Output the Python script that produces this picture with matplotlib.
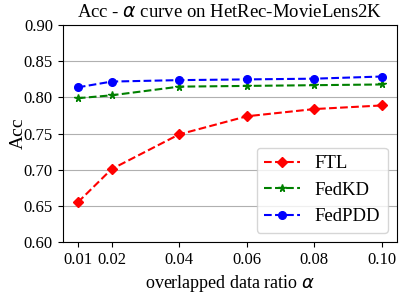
import matplotlib
matplotlib.use("Agg")
import matplotlib.pyplot as plt

x = [0.01, 0.02, 0.04, 0.06, 0.08, 0.10]
xlabels = ["0.01", "0.02", "0.04", "0.06", "0.08", "0.10"]
ftl = [0.655, 0.701, 0.749, 0.774, 0.784, 0.789]
fedkd = [0.799, 0.803, 0.815, 0.816, 0.817, 0.818]
fedpdd = [0.814, 0.822, 0.824, 0.825, 0.826, 0.829]
yticks = [0.60, 0.65, 0.70, 0.75, 0.80, 0.85, 0.90]

plt.rcParams['font.family'] = ['Liberation Serif', 'DejaVu Serif']
plt.rcParams['mathtext.fontset'] = 'dejavusans'

fig, ax = plt.subplots(figsize=(4.04, 2.96), dpi=100)
ax.plot(x, ftl, 'r--', marker='D', markersize=5.5, label='FTL')
ax.plot(x, fedkd, 'g--', marker='*', markersize=5.5, label='FedKD')
ax.plot(x, fedpdd, 'b--', marker='o', markersize=5.5, label='FedPDD')
ax.set_ylim(0.60, 0.90)
ax.set_yticks(yticks)
ax.set_yticklabels([f"{v:.2f}" for v in yticks])
ax.set_xticks(x)
ax.set_xticklabels(xlabels)
ax.yaxis.grid(True, color='#b0b0b0', linewidth=0.8)
ax.set_axisbelow(True)
ax.tick_params(labelsize=12)
ax.set_title(r'Acc - $\alpha$ curve on HetRec-MovieLens2K', fontsize=13.5)
ax.set_xlabel(r'overlapped data ratio $\alpha$', fontsize=13)
ax.set_ylabel('Acc', fontsize=14, labelpad=-2)
ax.legend(loc='lower right', fontsize=13.5, handlelength=1.9)
fig.subplots_adjust(left=0.155, right=0.983, top=0.915, bottom=0.182)
fig.savefig('out.png', dpi=100)
